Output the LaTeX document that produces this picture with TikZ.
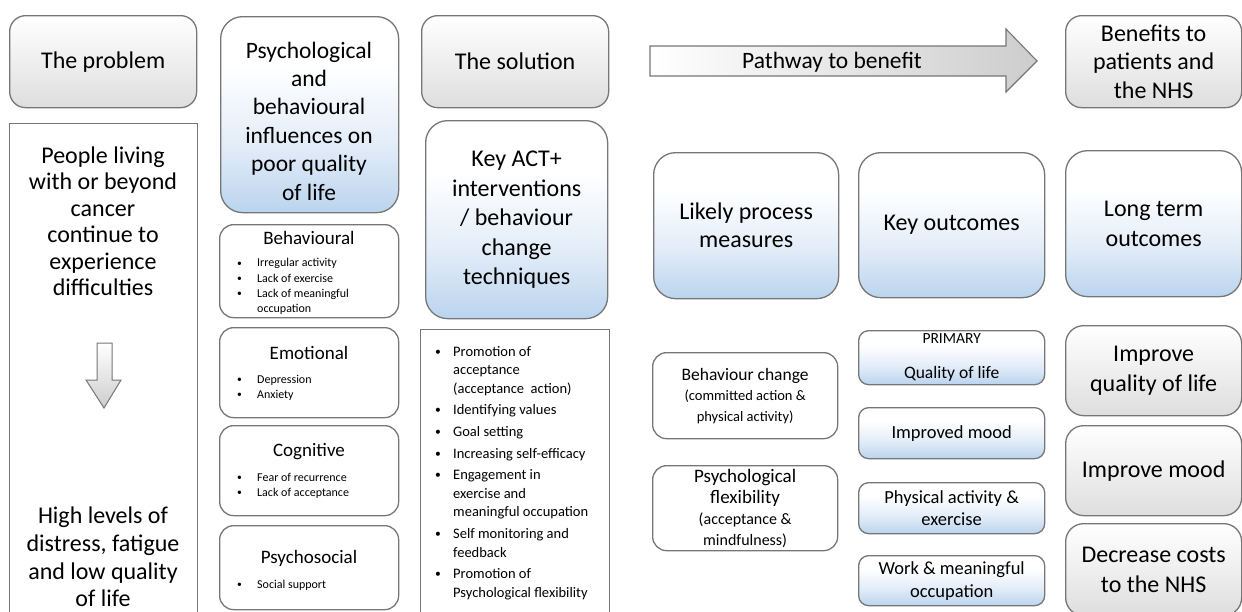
\documentclass[tikz,border=0pt]{standalone}
\usepackage{fontspec}
\setmainfont{Carlito}
\definecolor{bordercol}{RGB}{118,118,118}
\definecolor{graybot}{RGB}{222,222,222}
\definecolor{arrowbot}{RGB}{205,205,205}
\definecolor{bluebot}{RGB}{186,212,238}
\definecolor{bluemid}{RGB}{226,236,248}
\pgfdeclareverticalshading{bluegrad}{100bp}{color(0bp)=(bluebot); color(25bp)=(bluebot); color(42bp)=(bluemid); color(62bp)=(white); color(100bp)=(white)}
\newcommand\fsz[2]{\fontsize{#1pt}{#2pt}\selectfont}
\newcommand\smallbul{\raisebox{0.15ex}{\scalebox{0.8}{\textbullet}}}
\newcommand\blt{\makebox[20pt][l]{\smallbul}}
\newcommand\bltb{\makebox[18pt][l]{\smallbul}}
\newcommand\indb{\hspace*{18pt}}
\tikzset{
  box/.style={draw=bordercol, line width=1.3pt, rounded corners=16pt, anchor=north west, inner sep=0pt, align=center},
  graybox/.style={box, top color=white, bottom color=graybot},
  bluebox/.style={box, shade, shading=bluegrad},
  whitebox/.style={box, fill=white},
  plainbox/.style={draw=bordercol, line width=1.3pt, fill=white, anchor=north west, inner sep=0pt},
  txt/.style={inner sep=0pt, align=center},
  lst/.style={inner sep=0pt, align=left, anchor=west},
  bigf/.style={font=\fsz{24}{28.5}},
}
\begin{document}
\begin{tikzpicture}[x=1pt,y=-1pt]
\useasboundingbox (0,0) rectangle (1242,611);
\clip (0,0) rectangle (1242,611);

% column 1
\node[graybox, bigf, minimum width=187pt, minimum height=92pt] (prob) at (9,15) {The problem};
\node[plainbox, minimum width=188pt, minimum height=500pt] (tall) at (9,123) {};
\node[txt, font=\fsz{24}{26.5}] (tallA) at (103,221) {People living\\with or beyond\\cancer\\continue to\\experience\\difficulties};
\draw[draw=bordercol, line width=1pt, top color=white, bottom color=arrowbot]
  (97,343) -- (112,343) -- (112,380) -- (121,380) -- (104,408) -- (86,380) -- (97,380) -- cycle;
\node[txt, font=\fsz{24}{27.8}] (tallB) at (103,557) {High levels of\\distress, fatigue\\and low quality\\of life};

% column 2
\node[bluebox, minimum width=178pt, minimum height=196pt, rounded corners=22pt] (psych) at (220,16) {};
\node[txt, font=\fsz{23.5}{28.4}] (psychT) at (309,121) {Psychological\\and\\behavioural\\influences on\\poor quality\\of life};

\node[whitebox, minimum width=179pt, minimum height=93pt, rounded corners=14pt] (beh) at (219,224) {};
\node[txt, font=\fsz{19}{22}] (behT) at (309,238) {Behavioural};
\node[lst, font=\fsz{12}{15.2}] (behL) at (237,286.5) {\blt Irregular activity\\\blt Lack of exercise\\\blt Lack of meaningful\\\hspace*{20pt}occupation};

\node[whitebox, minimum width=179pt, minimum height=90pt, rounded corners=14pt] (emo) at (219,327) {};
\node[txt, font=\fsz{19}{22}] (emoT) at (309,353) {Emotional};
\node[lst, font=\fsz{12}{15.2}] (emoL) at (237,387.5) {\blt Depression\\\blt Anxiety};

\node[whitebox, minimum width=179pt, minimum height=90pt, rounded corners=14pt] (cog) at (219,425) {};
\node[txt, font=\fsz{19}{22}] (cogT) at (309,452) {Cognitive};
\node[lst, font=\fsz{12}{15.2}] (cogL) at (237,485.5) {\blt Fear of recurrence\\\blt Lack of acceptance};

\node[whitebox, minimum width=179pt, minimum height=84pt, rounded corners=14pt] (psoc) at (219,525) {};
\node[txt, font=\fsz{19}{22}] (psocT) at (309,558) {Psychosocial};
\node[lst, font=\fsz{12}{15.2}] (psocL) at (237,585) {\blt Social support};

% column 3
\node[graybox, bigf, minimum width=187pt, minimum height=92pt] (sol) at (421,15) {The solution};
\node[bluebox, font=\fsz{24}{29.5}, minimum width=182pt, minimum height=198pt, rounded corners=22pt] (act) at (425,120) {Key ACT+\\interventions\\/ behaviour\\change\\techniques};
\node[plainbox, minimum width=189pt, minimum height=300pt] (tech) at (420,329) {};
\node[lst, font=\fsz{14.5}{18.6}] (techL) at (435,473) {\bltb Promotion of\\\indb acceptance\\\indb (acceptance\ \ action)\\[3pt]
\bltb Identifying values\\[3pt]
\bltb Goal setting\\[3pt]
\bltb Increasing self-efficacy\\[3pt]
\bltb Engagement in\\\indb exercise and\\\indb meaningful occupation\\[3pt]
\bltb Self monitoring and\\\indb feedback\\[3pt]
\bltb Promotion of\\\indb Psychological flexibility};

% pathway arrow
\draw[draw=bordercol, line width=1.1pt, left color=white, right color=arrowbot]
  (650,46) -- (1006,46) -- (1006,29) -- (1037,61) -- (1006,92) -- (1006,76) -- (650,76) -- cycle;
\node[txt, font=\fsz{23.5}{28}] (pathT) at (832,62) {Pathway to benefit};
\node[graybox, font=\fsz{24}{28.5}, minimum width=176pt, minimum height=92pt] (ben) at (1065,15) {Benefits to\\patients and\\the NHS};

% headers row
\node[bluebox, font=\fsz{24}{28}, minimum width=185pt, minimum height=146pt, rounded corners=22pt] (proc) at (653,152) {Likely process\\measures};
\node[bluebox, font=\fsz{24}{28}, minimum width=186pt, minimum height=145pt, rounded corners=22pt] (keyo) at (858,152) {Key outcomes};
\node[bluebox, font=\fsz{24}{30}, minimum width=176pt, minimum height=146pt, rounded corners=22pt] (longt) at (1065,150) {Long term\\outcomes};

% process measures
\node[whitebox, font=\fsz{14.5}{20.5}, minimum width=185pt, minimum height=86pt, rounded corners=14pt] (bchg) at (652,352) {{\fontsize{17.5}{20.5}\selectfont Behaviour change}\\(committed action \&\\physical activity)};
\node[whitebox, font=\fsz{16}{21}, minimum width=185pt, minimum height=85pt, rounded corners=14pt] (pflex) at (652,465) {{\fontsize{19}{21}\selectfont Psychological}\\{\fontsize{19}{21}\selectfont flexibility}\\(acceptance \&\\mindfulness)};

% key outcomes
\node[bluebox, font=\fsz{17.5}{35}, minimum width=186pt, minimum height=54pt, rounded corners=10pt] (prim) at (858,330) {{\fontsize{15.5}{35}\selectfont PRIMARY}\\Quality of life};
\node[bluebox, font=\fsz{18.5}{22}, minimum width=186pt, minimum height=51pt, rounded corners=10pt] (imood) at (858,407) {Improved mood};
\node[bluebox, font=\fsz{18.5}{22.5}, minimum width=186pt, minimum height=51pt, rounded corners=10pt] (phys) at (858,482) {Physical activity \&\\exercise};
\node[bluebox, font=\fsz{18.5}{23}, minimum width=186pt, minimum height=50pt, rounded corners=10pt] (work) at (858,555) {Work \& meaningful\\occupation};

% long term outcomes
\node[graybox, font=\fsz{24}{30}, minimum width=176pt, minimum height=90pt, rounded corners=18pt] (impq) at (1065,325) {Improve\\quality of life};
\node[graybox, font=\fsz{24}{30}, minimum width=176pt, minimum height=90pt, rounded corners=18pt] (impm) at (1065,425) {Improve mood};
\node[graybox, font=\fsz{24}{30}, minimum width=176pt, minimum height=92pt, rounded corners=18pt] (decr) at (1065,523) {Decrease costs\\to the NHS};
\end{tikzpicture}
\end{document}
